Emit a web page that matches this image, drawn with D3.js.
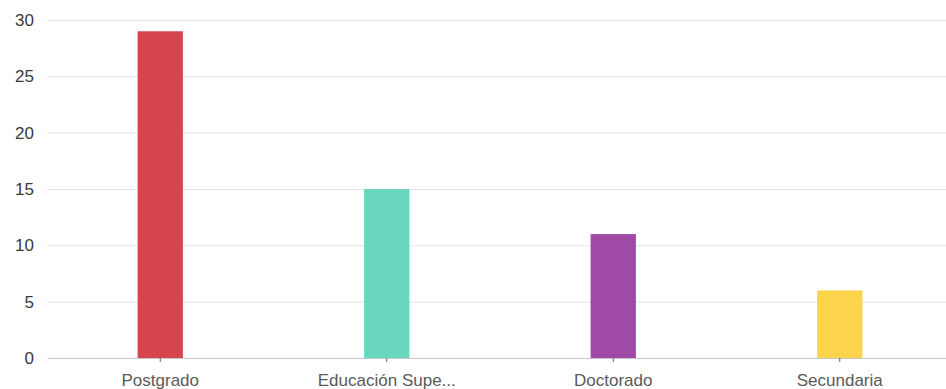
<!DOCTYPE html>
<html>
<head>
<meta charset="utf-8">
<script src="https://cdn.jsdelivr.net/npm/d3@7"></script>
<style>
  html, body { margin: 0; padding: 0; background: #fff; }
  svg { display: block; }
  text { font-family: "Liberation Sans", Arial, sans-serif; }
</style>
</head>
<body>
<svg id="chart" width="946" height="389"></svg>
<script>
// Nivel educativo: categorías y cantidades
const categories = ["Postgrado", "Educación Supe...", "Doctorado", "Secundaria"];
const counts = [29, 15, 11, 6];
const barColors = ["#d6454b", "#6ad6be", "#a04aa8", "#fcd44c"];
const yTicks = [0, 5, 10, 15, 20, 25, 30];

const svg = d3.select("#chart");
const plotLeft = 47, plotRight = 953, plotTop = 20, plotBottom = 358;

const x = d3.scaleBand()
  .domain(categories)
  .range([plotLeft, plotRight])
  .paddingInner(0.8)
  .paddingOuter(0.4);

const y = d3.scaleLinear().domain([0, 30]).range([plotBottom, plotTop]);

// horizontal gridlines
svg.append("g")
  .selectAll("line")
  .data(yTicks.filter(d => d !== 0))
  .join("line")
  .attr("x1", plotLeft).attr("x2", plotRight)
  .attr("y1", d => y(d) + 0.5).attr("y2", d => y(d) + 0.5)
  .attr("stroke", "#e3e3e3").attr("stroke-width", 1);

// y-axis labels
const yAxis = d3.axisLeft(y).tickValues(yTicks).tickSize(0).tickPadding(0);
svg.append("g")
  .attr("transform", `translate(${plotLeft - 13},0)`)
  .call(yAxis)
  .call(g => g.select(".domain").remove())
  .call(g => g.selectAll("text")
    .attr("fill", "#3a3a3a").attr("font-size", 17)
    .attr("font-family", "'Liberation Sans', Arial, sans-serif"));

// bars
svg.append("g")
  .selectAll("rect")
  .data(categories.map((c, i) => ({ c, v: counts[i], col: barColors[i] })))
  .join("rect")
  .attr("x", d => x(d.c))
  .attr("y", d => y(d.v))
  .attr("width", x.bandwidth())
  .attr("height", d => y(0) - y(d.v))
  .attr("fill", d => d.col);

// baseline + category axis
const xAxis = d3.axisBottom(x).tickSize(4).tickPadding(12).tickSizeOuter(0);
svg.append("g")
  .attr("transform", `translate(0,${plotBottom})`)
  .call(xAxis)
  .call(g => g.select(".domain").attr("stroke", "#c8c8c8"))
  .call(g => g.selectAll(".tick line").attr("stroke", "#666"))
  .call(g => g.selectAll("text")
    .attr("fill", "#5a5a5a").attr("font-size", 17)
    .attr("font-family", "'Liberation Sans', Arial, sans-serif"));
</script>
</body>
</html>
